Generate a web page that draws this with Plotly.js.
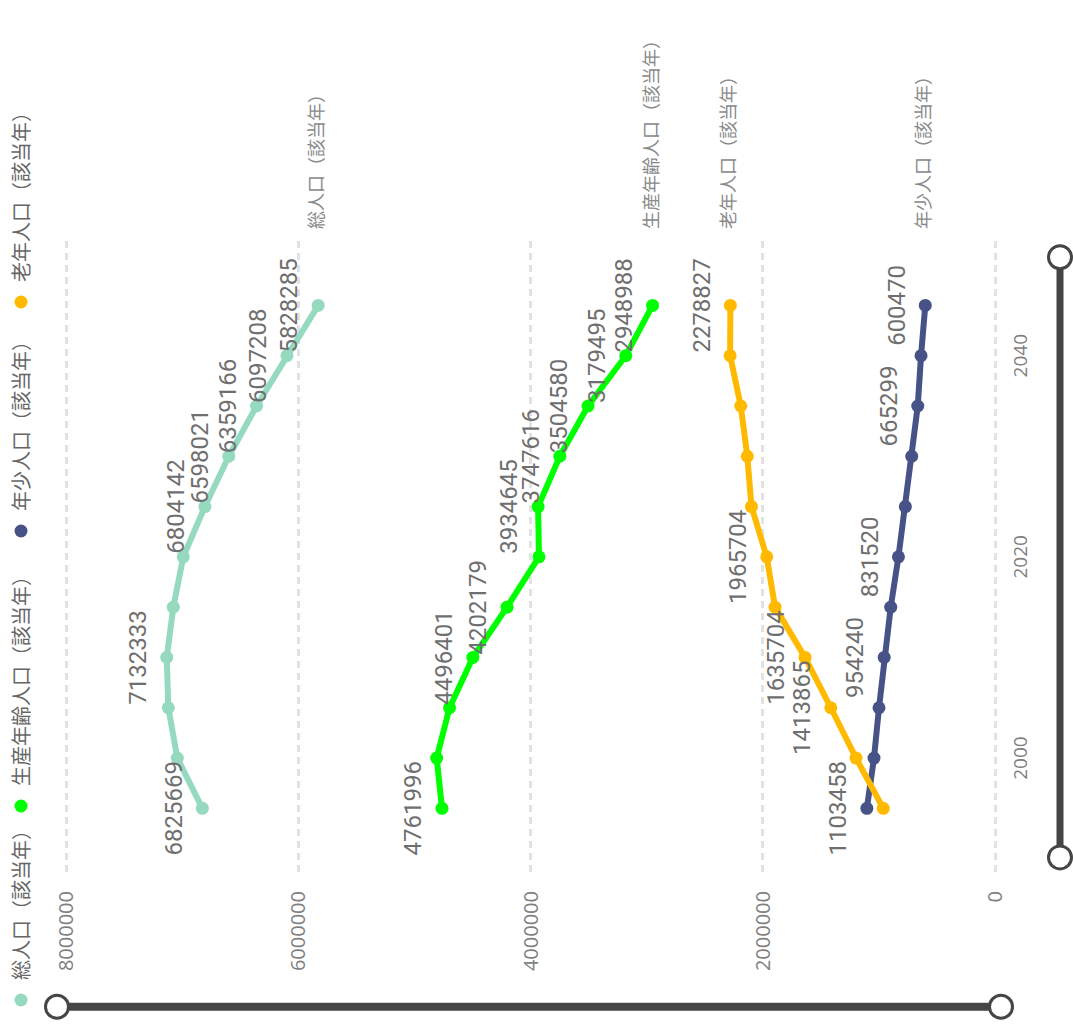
<!DOCTYPE html>
<html>
<head>
<meta charset="utf-8">
<script src="https://cdn.plot.ly/plotly-3.0.1.min.js"></script>
<style>
html,body{margin:0;padding:0;overflow:hidden;background:#fff;width:1073px;height:1032px;}
#wrap{position:absolute;left:0;top:0;width:1032px;height:1073px;transform-origin:0 0;transform:translate(0,1032px) rotate(-90deg);}
#chart{width:1032px;height:1073px;}
</style>
</head>
<body>
<div id="wrap"><div id="chart"></div></div>
<script>
// ---- data ----
const years = [1995, 2000, 2005, 2010, 2015, 2020, 2025, 2030, 2035, 2040, 2045];
const seriesNames = ['総人口（該当年）', '生産年齢人口（該当年）', '年少人口（該当年）', '老年人口（該当年）'];
const totalPop   = [6825669, 7041500, 7119000, 7132333, 7076000, 6990000, 6804142, 6598021, 6359166, 6097208, 5828285];
const workingPop = [4761996, 4808000, 4697000, 4496401, 4202179, 3927000, 3934645, 3747616, 3504580, 3179495, 2948988];
const youthPop   = [1103458, 1042000, 999000, 954240, 898000, 831520, 772000, 717000, 665299, 637000, 600470];
const elderlyPop = [962000, 1197000, 1413865, 1635704, 1894000, 1965704, 2097000, 2133000, 2189287, 2281000, 2278827];
// which points carry a data label
const totalLabelOn   = [1,0,0,1,0,0,1,1,1,1,1];
const workingLabelOn = [1,0,0,1,1,0,1,1,1,1,1];
const youthLabelOn   = [1,0,0,1,0,1,0,0,1,0,1];
const elderlyLabelOn = [0,0,1,1,0,1,0,0,0,0,1];
const xTickVals = [2000, 2020, 2040];
const yTickVals = [0, 2000000, 4000000, 6000000, 8000000];

// ---- layout geometry (unrotated frame) ----
const W = 1032, H = 1073;
const M = {l: 160, r: 238, t: 64, b: 76};
const PW = W - M.l - M.r, PH = H - M.t - M.b;
const pX = v => (v - M.l) / PW;
const pY = v => 1 - (v - M.t) / PH;

const series = [
  {vals: totalPop,   on: totalLabelOn,   color: '#95D9BE', legend: 'legend',  lx: 12},
  {vals: workingPop, on: workingLabelOn, color: '#00FF00', legend: 'legend2', lx: 206},
  {vals: youthPop,   on: youthLabelOn,   color: '#475287', legend: 'legend3', lx: 481},
  {vals: elderlyPop, on: elderlyLabelOn, color: '#FFBA00', legend: 'legend4', lx: 710}
];

const traces = [];
series.forEach((s, i) => {
  traces.push({
    x: years, y: s.vals, type: 'scatter', mode: 'lines',
    line: {color: s.color, width: 6}, showlegend: false, hoverinfo: 'skip', cliponaxis: false
  });
  traces.push({
    x: years, y: s.vals, type: 'scatter', mode: 'markers', name: seriesNames[i],
    marker: {color: s.color, size: 13}, legend: s.legend, cliponaxis: false
  });
});
series.forEach((s, i) => {
  traces.push({
    x: years, y: s.vals, type: 'scatter', mode: 'markers+text',
    text: s.vals.map((v, k) => s.on[k] ? String(v) : ''),
    textposition: 'top center',
    textfont: {family: 'Roboto, sans-serif', size: 24, color: '#6f6f6f'},
    marker: {size: 22, opacity: 0, color: s.color},
    showlegend: false, hoverinfo: 'skip', cliponaxis: false
  });
});

const annotations = series.map((s, i) => ({
  xref: 'paper', x: 1, xanchor: 'left', xshift: 7,
  yref: 'y', y: s.vals[s.vals.length - 1], yanchor: 'middle', yshift: 3,
  text: seriesNames[i], showarrow: false,
  font: {family: 'Noto Sans CJK JP, sans-serif', size: 18, color: '#8a8a8a'}
}));

const sliderColor = '#454545';
function slider(x0, y0, x1, y1, w) {
  const r = 11.5;
  return [
    {type: 'line', xref: 'paper', yref: 'paper', x0: pX(x0), y0: pY(y0), x1: pX(x1), y1: pY(y1),
     line: {color: sliderColor, width: w}},
    {type: 'circle', xref: 'paper', yref: 'paper', x0: pX(x0 - r), x1: pX(x0 + r), y0: pY(y0 - r), y1: pY(y0 + r),
     fillcolor: '#ffffff', line: {color: sliderColor, width: 3}},
    {type: 'circle', xref: 'paper', yref: 'paper', x0: pX(x1 - r), x1: pX(x1 + r), y0: pY(y1 - r), y1: pY(y1 + r),
     fillcolor: '#ffffff', line: {color: sliderColor, width: 3}}
  ];
}
const shapes = [].concat(slider(25.3, 57, 25.3, 1001, 8), slider(174.6, 1060, 774.7, 1060, 7));

const legendFont = {family: 'Noto Sans CJK JP, sans-serif', size: 20, color: '#666666'};
function legendAt(px) {
  return {orientation: 'h', x: pX(px), xanchor: 'left', y: pY(21), yanchor: 'middle',
          font: legendFont, bgcolor: 'rgba(0,0,0,0)', borderwidth: 0, itemclick: false, itemdoubleclick: false};
}

const layout = {
  width: W, height: H,
  margin: {l: M.l, r: M.r, t: M.t, b: M.b, autoexpand: false},
  paper_bgcolor: '#ffffff', plot_bgcolor: '#ffffff',
  showlegend: true,
  legend: legendAt(series[0].lx),
  legend2: legendAt(series[1].lx),
  legend3: legendAt(series[2].lx),
  legend4: legendAt(series[3].lx),
  xaxis: {
    range: [1988.67, 2051.7], tickmode: 'array', tickvals: xTickVals,
    showgrid: false, zeroline: false, showline: false, ticks: '',
    tickfont: {family: 'Open Sans, sans-serif', size: 19, color: '#7f7f7f'},
    ticklabelstandoff: 10
  },
  yaxis: {
    range: [-17222, 8017222], tickmode: 'array', tickvals: yTickVals, tickformat: 'd',
    showgrid: true, gridcolor: '#e2e2e2', gridwidth: 3, griddash: '7px,5px',
    zeroline: false, showline: false, ticks: '',
    tickfont: {family: 'Open Sans, sans-serif', size: 20, color: '#7f7f7f'},
    ticklabelstandoff: 18
  },
  annotations: annotations,
  shapes: shapes,
  hovermode: false
};

Plotly.newPlot('chart', traces, layout, {displayModeBar: false, staticPlot: true});
</script>
</body>
</html>
